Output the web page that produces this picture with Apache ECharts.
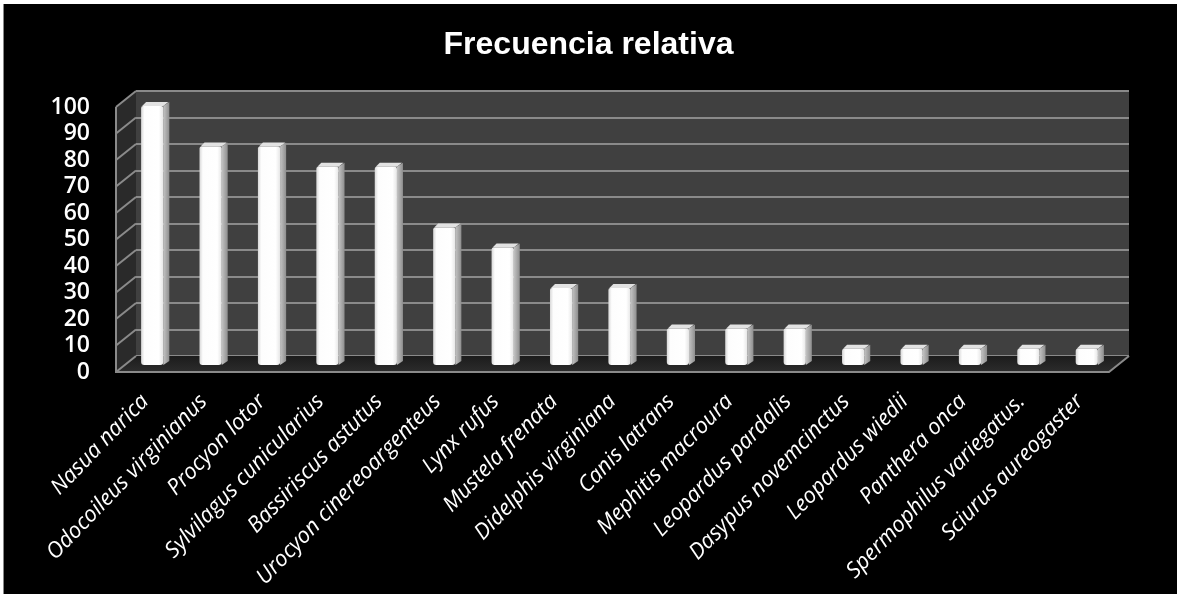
<!DOCTYPE html>
<html>
<head>
<meta charset="utf-8">
<style>
  html, body { margin: 0; padding: 0; background: #fff; }
  #chart { width: 1177px; height: 594px; }
</style>
<script src="https://cdn.jsdelivr.net/npm/echarts@6/dist/echarts.min.js"></script>
</head>
<body>
<div id="chart"></div>
<script>
// Species recorded and their relative frequency (%)
const species = [
  'Nasua narica', 'Odocoileus virginianus', 'Procyon lotor', 'Sylvilagus cunicularius',
  'Bassiriscus astutus', 'Urocyon cinereoargenteus', 'Lynx rufus', 'Mustela frenata',
  'Didelphis virginiana', 'Canis latrans', 'Mephitis macroura', 'Leopardus pardalis',
  'Dasypus novemcinctus', 'Leopardus wiedii', 'Panthera onca', 'Spermophilus variegatus.',
  'Sciurus aureogaster'
];
const frecuencia = [100, 84.6, 84.6, 76.9, 76.9, 53.8, 46.2, 30.8, 30.8, 15.4, 15.4, 15.4, 7.7, 7.7, 7.7, 7.7, 7.7];
const yTicks = [0, 10, 20, 30, 40, 50, 60, 70, 80, 90, 100];

const DX = 20, DY = 16;          // depth offset of the back wall
const gridColor = '#8a8a8a';

const chart = echarts.init(document.getElementById('chart'));

// left side wall, floor and front edges, drawn from the back grid's rectangle
function renderFrame(params, api) {
  const cs = params.coordSys;
  const v = api.value(0);
  const p = api.coord([0, v]);
  const y = p[1];
  const xl = cs.x;
  const children = [];
  if (params.dataIndex === 0) {
    const top = cs.y, bot = cs.y + cs.height, right = cs.x + cs.width;
    children.push({
      type: 'polygon',
      shape: { points: [[xl - DX, top + DY], [xl, top], [xl, bot], [xl - DX, bot + DY]] },
      style: { fill: '#2a2a2a' }
    });
    children.push({
      type: 'polygon',
      shape: { points: [[xl, bot], [right, bot], [right - DX, bot + DY], [xl - DX, bot + DY]] },
      style: {
        fill: new echarts.graphic.LinearGradient(0, 0, 0, 1, [
          { offset: 0, color: '#1c1c1c' }, { offset: 1, color: '#2c2c2c' }
        ])
      }
    });
    children.push({
      type: 'polyline',
      shape: { points: [[xl - DX, top + DY], [xl - DX, bot + DY], [right - DX, bot + DY], [right, bot]] },
      style: { stroke: gridColor, lineWidth: 2, fill: null }
    });
  }
  children.push({
    type: 'line',
    shape: { x1: xl - DX, y1: y + DY, x2: xl, y2: y },
    style: { stroke: gridColor, lineWidth: 2 }
  });
  return { type: 'group', children: children };
}

// rounded 3D column: front face, shaded right side and top cap
function renderColumn(params, api) {
  const i = api.value(0);
  const topPt = api.coord([i, api.value(1)]);
  const basePt = api.coord([i, 0]);
  const band = api.size([1, 0])[0];
  const fw = band * 0.38, sw = 6, td = 4;
  const c = topPt[0];
  const x0 = c - fw / 2 - 3, x1 = x0 + fw;
  const yTop = topPt[1], yBase = basePt[1];
  return {
    type: 'group',
    children: [
      {
        type: 'polygon',
        shape: { points: [[x1, yTop + td], [x1 + sw, yTop], [x1 + sw, yBase - td], [x1, yBase]] },
        style: {
          fill: new echarts.graphic.LinearGradient(0, 0, 1, 0, [
            { offset: 0, color: '#c4c4c4' }, { offset: 1, color: '#8e8e8e' }
          ])
        }
      },
      {
        type: 'polygon',
        shape: { points: [[x0 + 1, yTop + td], [x0 + 5, yTop], [x1 + sw - 1, yTop], [x1, yTop + td]] },
        style: { fill: '#e2e2e2' }
      },
      {
        type: 'rect',
        shape: { x: x0, y: yTop + td, width: fw, height: yBase - yTop - td, r: [2, 2, 3, 3] },
        style: {
          fill: new echarts.graphic.LinearGradient(0, 0, 1, 0, [
            { offset: 0, color: '#d8d8d8' }, { offset: 0.15, color: '#fdfdfd' },
            { offset: 0.8, color: '#ffffff' }, { offset: 1, color: '#e6e6e6' }
          ])
        }
      }
    ]
  };
}

const option = {
  backgroundColor: '#000',
  animation: false,
  title: {
    text: 'Frecuencia relativa',
    left: 'center',
    top: 24,
    textStyle: { color: '#fff', fontFamily: 'Liberation Sans', fontWeight: 'bold', fontSize: 32 }
  },
  graphic: [
    { type: 'rect', shape: { x: 0, y: 0, width: 1177, height: 4 }, style: { fill: '#fff' }, z: 100 },
    { type: 'rect', shape: { x: 0, y: 0, width: 3, height: 594 }, style: { fill: '#fff' }, z: 100 },
    { type: 'line', shape: { x1: 3.5, y1: 4, x2: 3.5, y2: 594 }, style: { stroke: '#888', lineWidth: 1 }, z: 100 }
  ],
  grid: [
    // front plane: axis labels
    { left: 116, top: 107, width: 993, height: 265, show: false },
    // back wall
    { left: 136, top: 91, width: 993, height: 265, show: true, backgroundColor: '#404040', borderWidth: 0 },
    // column plane
    { left: 126, top: 102, width: 993, height: 263, show: false }
  ],
  xAxis: [
    {
      gridIndex: 0, type: 'category', data: species,
      axisLine: { show: false }, axisTick: { show: false },
      axisLabel: {
        interval: 0, rotate: 46, margin: 26, color: '#fff',
        fontFamily: 'Open Sans', fontStyle: 'italic', fontSize: 22
      }
    },
    { gridIndex: 1, type: 'category', data: species, show: false },
    { gridIndex: 2, type: 'category', data: species, show: false }
  ],
  yAxis: [
    {
      gridIndex: 0, type: 'value', min: 0, max: 100, interval: 10,
      axisLine: { show: false }, axisTick: { show: false }, splitLine: { show: false },
      axisLabel: { color: '#fff', fontFamily: 'Open Sans', fontWeight: 600, fontSize: 23, margin: 26 }
    },
    {
      gridIndex: 1, type: 'value', min: 0, max: 100, interval: 10,
      axisLine: { show: false }, axisTick: { show: false }, axisLabel: { show: false },
      splitLine: { show: true, lineStyle: { color: gridColor, width: 2 } }
    },
    { gridIndex: 2, type: 'value', min: 0, max: 100, show: false }
  ],
  series: [
    {
      type: 'custom', name: 'marco', xAxisIndex: 1, yAxisIndex: 1,
      data: yTicks.map(t => [t]), renderItem: renderFrame, silent: true, z: 1
    },
    {
      type: 'custom', name: 'Frecuencia relativa', xAxisIndex: 2, yAxisIndex: 2,
      data: frecuencia.map((v, i) => [i, v]), renderItem: renderColumn, z: 3,
      encode: { x: 0, y: 1 }
    }
  ]
};
chart.setOption(option);
</script>
</body>
</html>
